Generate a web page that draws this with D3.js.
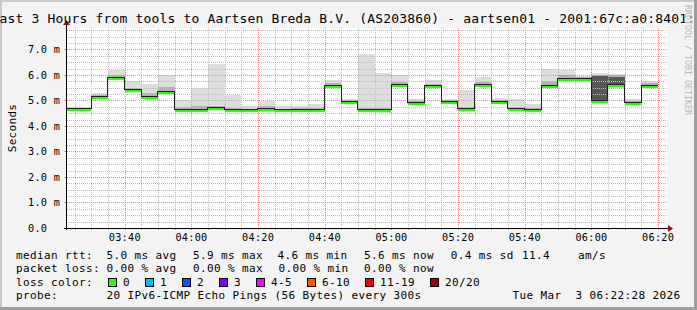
<!DOCTYPE html>
<html>
<head>
<meta charset="utf-8">
<script src="https://cdn.jsdelivr.net/npm/d3@7"></script>
<style>
html, body { margin: 0; padding: 0; background: #f3f3f3; }
svg { display: block; }
text { font-family: "DejaVu Sans Mono", monospace; }
</style>
</head>
<body>
<div id="chart"></div>
<script>
// 5 minute buckets (start time), values in ms
const bucketStart = ['03:20', '03:25', '03:30', '03:35', '03:40', '03:45', '03:50', '03:55', '04:00',
    '04:05', '04:10', '04:15', '04:20', '04:25', '04:30', '04:35', '04:40', '04:45', '04:50', '04:55',
    '05:00', '05:05', '05:10', '05:15', '05:20', '05:25', '05:30', '05:35', '05:40', '05:45', '05:50',
    '05:55', '06:00', '06:05', '06:10', '06:15'];
const median = [4.65, 4.65, 5.12, 5.88, 5.41, 5.14, 5.33, 4.62, 4.62, 4.69, 4.62, 4.62, 4.66, 4.62, 4.62,
    4.63, 5.57, 4.94, 4.64, 4.61, 5.62, 4.89, 5.57, 4.94, 4.65, 5.59, 4.94, 4.67, 4.64, 5.58, 5.86, 5.86,
    4.97, 5.60, 4.89, 5.58];
const smokeMin = [4.58, 4.58, 5.05, 5.80, 5.28, 5.06, 5.25, 4.54, 4.54, 4.58, 4.55, 4.55, 4.56, 4.55, 4.55,
    4.55, 5.50, 4.86, 4.56, 4.50, 5.52, 4.82, 5.50, 4.86, 4.56, 5.52, 4.85, 4.60, 4.58, 5.50, 5.80, 5.80,
    4.85, 5.50, 4.82, 5.52];
const smokeMax = [4.76, 4.76, 5.29, 6.18, 5.75, 5.63, 5.98, 5.00, 5.50, 6.44, 5.20, 4.77, 4.99, 4.77, 4.80,
    4.86, 5.82, 5.04, 6.84, 6.06, 5.98, 5.07, 5.80, 5.04, 5.42, 5.90, 5.08, 5.04, 4.86, 6.22, 6.18, 5.96,
    6.08, 6.05, 5.07, 5.77];
const q10 = [4.62, 4.62, 5.09, 5.84, 5.36, 5.10, 5.29, 4.58, 4.58, 4.64, 4.58, 4.58, 4.62, 4.58, 4.58,
    4.59, 5.53, 4.90, 4.60, 4.57, 5.58, 4.85, 5.53, 4.90, 4.61, 5.55, 4.90, 4.63, 4.60, 5.54, 5.82, 5.82,
    4.92, 5.55, 4.85, 5.54];
const q90 = [4.68, 4.68, 5.20, 5.98, 5.50, 5.30, 5.52, 4.75, 4.78, 4.80, 4.72, 4.68, 4.78, 4.68, 4.70,
    4.72, 5.68, 5.00, 4.72, 4.70, 5.72, 4.97, 5.66, 5.00, 4.76, 5.72, 5.03, 4.76, 4.72, 5.75, 5.98, 5.90,
    6.00, 5.98, 4.97, 5.68];
const q25 = [4.64, 4.64, 5.11, 5.87, 5.40, 5.13, 5.32, 4.61, 4.61, 4.68, 4.61, 4.61, 4.65, 4.61, 4.61,
    4.62, 5.56, 4.93, 4.63, 4.60, 5.61, 4.88, 5.56, 4.93, 4.64, 5.58, 4.93, 4.66, 4.63, 5.57, 5.85, 5.85,
    4.96, 5.59, 4.88, 5.57];
const q75 = [4.66, 4.66, 5.14, 5.90, 5.44, 5.17, 5.38, 4.64, 4.65, 4.72, 4.64, 4.63, 4.68, 4.63, 4.64,
    4.65, 5.60, 4.96, 4.67, 4.63, 5.65, 4.91, 5.60, 4.96, 4.68, 5.62, 4.96, 4.69, 4.66, 5.62, 5.88, 5.87,
    5.94, 5.93, 4.91, 5.60];
const loss = [0, 0, 0, 0, 0, 0, 0, 0, 0, 0, 0, 0, 0, 0, 0, 0, 0, 0, 0, 0, 0, 0, 0, 0, 0, 0, 0, 0, 0, 0, 0,
    0, 0, 0, 0, 0];

const xTickLabels = ['03:40', '04:00', '04:20', '04:40', '05:00', '05:20', '05:40', '06:00', '06:20'];
const yTickValues = [0, 1, 2, 3, 4, 5, 6, 7];
const yTickLabels = ['0.0', '1.0 m', '2.0 m', '3.0 m', '4.0 m', '5.0 m', '6.0 m', '7.0 m'];

const lossLabels = ['0', '1', '2', '3', '4-5', '6-10', '11-19', '20/20'];
const lossColors = ['#26ff00', '#00b8ff', '#0059ff', '#7e00ff', '#ff00ff', '#ff5500', '#ff0000', '#a10000'];
const rttStats = ['5.0 ms avg', '5.9 ms max', '4.6 ms min', '5.6 ms now', '0.4 ms sd', '11.4    am/s'];
const lossStats = ['0.00 % avg', '0.00 % max', '0.00 % min', '0.00 % now'];

const title = 'Last 3 Hours from tools to Aartsen Breda B.V. (AS203860) - aartsen01 - 2001:67c:a0:8401::2';
const probeText = '20 IPv6-ICMP Echo Pings (56 Bytes) every 300s';
const dateText = 'Tue Mar  3 06:22:28 2026';

const width = 697;
const height = 310;
const plot = { left: 67, right: 667, top: 28, bottom: 228 };

// keep runs of spaces in svg text
const keepSpaces = s => s.replace(/ /g, '\u00a0');

const parseTime = d3.timeParse('%H:%M:%S');
const t = s => parseTime(s.length === 5 ? s + ':00' : s);

const x = d3.scaleTime()
    .domain([t('03:22:45'), t('06:22:45')])
    .range([plot.left, plot.right]);
const y = d3.scaleLinear()
    .domain([0, 7.84])
    .range([plot.bottom, plot.top]);

const buckets = bucketStart.map((s, i) => ({
    start: t(s),
    end: d3.timeMinute.offset(t(s), 5),
    median: median[i],
    min: smokeMin[i], max: smokeMax[i],
    q10: q10[i], q90: q90[i],
    q25: q25[i], q75: q75[i],
    loss: loss[i]
}));

const svg = d3.select('#chart').append('svg')
    .attr('width', width)
    .attr('height', height);

// background + frame
svg.append('rect').attr('width', width).attr('height', height).style('fill', '#f3f3f3');
svg.append('rect').attr('x', 0).attr('y', 0).attr('width', width).attr('height', 2).style('fill', '#cbcbcb');
svg.append('rect').attr('x', 0).attr('y', 0).attr('width', 2).attr('height', height).style('fill', '#cbcbcb');
svg.append('rect').attr('x', 0).attr('y', height - 3).attr('width', width).attr('height', 3).style('fill', '#9d9d9d');
svg.append('rect').attr('x', width - 3).attr('y', 0).attr('width', 3).attr('height', height).style('fill', '#9d9d9d');

// canvas
svg.append('rect')
    .attr('x', plot.left).attr('y', plot.top)
    .attr('width', plot.right - plot.left).attr('height', plot.bottom - plot.top)
    .style('fill', '#ffffff');

svg.append('clipPath').attr('id', 'plot-clip')
    .append('rect')
    .attr('x', plot.left).attr('y', plot.top)
    .attr('width', plot.right - plot.left).attr('height', plot.bottom - plot.top);

const dataGroup = svg.append('g').attr('clip-path', 'url(#plot-clip)');

// smoke layers: outer range light, inner ranges darker
const smokeLayers = [
    { lo: 'min', hi: 'max', color: '#dddddd' },
    { lo: 'q10', hi: 'q90', color: '#b2b2b2' },
    { lo: 'q25', hi: 'q75', color: '#575757' }
];
smokeLayers.forEach(layer => {
    dataGroup.append('g')
        .selectAll('rect')
        .data(buckets)
        .join('rect')
        .attr('x', d => x(d.start))
        .attr('width', d => x(d.end) - x(d.start))
        .attr('y', d => y(d[layer.hi]))
        .attr('height', d => y(d[layer.lo]) - y(d[layer.hi]))
        .attr('shape-rendering', 'crispEdges')
        .style('fill', layer.color);
});

// grid (drawn over the smoke like rrdtool does), 1px dotted
const gridGroup = svg.append('g');
const minorX = d3.timeMinute.every(5).range(x.domain()[0], x.domain()[1]);
const majorX = d3.timeMinute.every(20).range(x.domain()[0], x.domain()[1]);
const minorY = d3.range(0.25, 7.84, 0.25).filter(v => Math.abs(v - Math.round(v)) > 0.01);
const majorY = yTickValues.filter(v => v > 0);
const minorColor = '#bdbdbd';
const majorColor = '#ee8c8c';
const px = v => Math.round(v) + 0.5;

gridGroup.selectAll('.minor-x')
    .data(minorX.filter(d => d.getMinutes() % 20 !== 0))
    .join('line')
    .attr('x1', d => px(x(d))).attr('x2', d => px(x(d)))
    .attr('y1', plot.top).attr('y2', plot.bottom)
    .style('stroke', minorColor)
    .style('stroke-dasharray', '1,1');
gridGroup.selectAll('.minor-y')
    .data(minorY)
    .join('line')
    .attr('x1', plot.left).attr('x2', plot.right)
    .attr('y1', d => px(y(d))).attr('y2', d => px(y(d)))
    .style('stroke', minorColor)
    .style('stroke-dasharray', '1,1');
gridGroup.selectAll('.major-x')
    .data(majorX)
    .join('line')
    .attr('x1', d => px(x(d))).attr('x2', d => px(x(d)))
    .attr('y1', plot.top).attr('y2', plot.bottom)
    .style('stroke', majorColor)
    .style('stroke-dasharray', '1,1');
gridGroup.selectAll('.major-y')
    .data(majorY)
    .join('line')
    .attr('x1', plot.left).attr('x2', plot.right)
    .attr('y1', d => px(y(d))).attr('y2', d => px(y(d)))
    .style('stroke', majorColor)
    .style('stroke-dasharray', '1,1');

// median band coloured by loss
const medGroup = svg.append('g').attr('clip-path', 'url(#plot-clip)');
medGroup.selectAll('rect')
    .data(buckets)
    .join('rect')
    .attr('x', d => x(d.start))
    .attr('width', d => x(d.end) - x(d.start))
    .attr('y', d => Math.round(y(d.median)) - 1)
    .attr('height', 3)
    .attr('shape-rendering', 'crispEdges')
    .style('fill', d => lossColors[d.loss]);

// median line
const last = buckets[buckets.length - 1];
const linePoints = buckets.map(d => [x(d.start), Math.round(y(d.median)) - 0.5])
    .concat([[x(last.end), Math.round(y(last.median)) - 0.5]]);
medGroup.append('path')
    .attr('d', d3.line().curve(d3.curveStepAfter)(linePoints))
    .attr('shape-rendering', 'crispEdges')
    .style('fill', 'none')
    .style('stroke', '#202020')
    .style('stroke-width', 1);

// axes
const axisGroup = svg.append('g').attr('shape-rendering', 'crispEdges');
axisGroup.selectAll('.tick-minor')
    .data(minorX)
    .join('line')
    .attr('x1', d => px(x(d))).attr('x2', d => px(x(d)))
    .attr('y1', plot.bottom).attr('y2', plot.bottom + 2)
    .style('stroke', '#999999');
axisGroup.selectAll('.tick-y')
    .data(yTickValues)
    .join('line')
    .attr('x1', plot.left - 3).attr('x2', plot.left)
    .attr('y1', d => px(y(d))).attr('y2', d => px(y(d)))
    .style('stroke', d => d === 0 ? '#000' : majorColor);
axisGroup.append('line')
    .attr('x1', plot.left - 3).attr('x2', plot.right + 2)
    .attr('y1', plot.bottom + 0.5).attr('y2', plot.bottom + 0.5)
    .style('stroke', '#000');
axisGroup.append('line')
    .attr('x1', plot.left - 0.5).attr('x2', plot.left - 0.5)
    .attr('y1', plot.bottom + 2).attr('y2', plot.top - 3)
    .style('stroke', '#000');

// arrows
svg.append('path')
    .attr('d', `M${plot.right + 6},${plot.bottom + 0.5} L${plot.right + 1},${plot.bottom - 3} L${plot.right + 1},${plot.bottom + 4} Z`)
    .style('fill', '#9a1010');
svg.append('path')
    .attr('d', `M${plot.left - 0.5},${plot.top - 8} L${plot.left - 4},${plot.top - 3} L${plot.left + 3},${plot.top - 3} Z`)
    .style('fill', '#9a1010');

// tick labels
const labelFont = { size: '10.2px', spacing: '0.3px' };
svg.append('g').selectAll('text')
    .data(xTickLabels)
    .join('text')
    .attr('x', d => x(t(d)) + 0.3)
    .attr('y', 241)
    .attr('text-anchor', 'middle')
    .style('font-size', labelFont.size)
    .style('letter-spacing', labelFont.spacing)
    .style('fill', '#000')
    .text(d => d);

svg.append('g').selectAll('text')
    .data(yTickValues)
    .join('text')
    .attr('x', 28)
    .attr('y', d => y(d) + 4)
    .style('font-size', labelFont.size)
    .style('letter-spacing', labelFont.spacing)
    .style('fill', '#000')
    .text((d, i) => keepSpaces(yTickLabels[i]));

// y axis title
svg.append('text')
    .attr('transform', `translate(15.5,${(plot.top + plot.bottom) / 2}) rotate(-90)`)
    .attr('text-anchor', 'middle')
    .style('font-size', '11px')
    .style('letter-spacing', '0.3px')
    .style('fill', '#000')
    .text('Seconds');

// title (wider than the image, clipped at both sides like the original)
svg.append('text')
    .attr('x', -8.5)
    .attr('y', 23)
    .style('font-size', '13px')
    .style('letter-spacing', '0.17px')
    .style('fill', '#000')
    .text(keepSpaces(title));

// watermark
svg.append('text')
    .attr('transform', 'translate(685,5) rotate(90)')
    .style('font-size', '8.3px')
    .style('fill', '#b8b8b8')
    .text(keepSpaces('RRDTOOL / TOBI OETIKER'));

// legend
const legend = svg.append('g')
    .style('font-size', '11px')
    .style('letter-spacing', '0.38px')
    .style('fill', '#000');
const rows = [258.5, 272, 285.7, 299.3];
const addText = (xPos, row, s) => legend.append('text').attr('x', xPos).attr('y', rows[row]).text(keepSpaces(s));

addText(16, 0, 'median rtt:');
const rttX = [106.5, 193, 277.5, 364, 450.8, 522];
rttStats.forEach((s, i) => addText(rttX[i], 0, s));

addText(16, 1, 'packet loss:');
const lossX = [106.5, 193, 278.5, 364];
lossStats.forEach((s, i) => addText(lossX[i], 1, s));

addText(16, 2, 'loss color:');
const boxX = [108.5, 145.5, 182.5, 219.5, 256.5, 307.5, 365.5, 430.5];
lossLabels.forEach((s, i) => {
    legend.append('rect')
        .attr('x', boxX[i]).attr('y', 278.5)
        .attr('width', 8).attr('height', 8)
        .style('fill', lossColors[i])
        .style('stroke', '#000')
        .style('stroke-width', 1);
    addText(boxX[i] + 14.5, 2, s);
});

addText(16, 3, 'probe:');
addText(106.5, 3, probeText);
addText(512.5, 3, dateText);
</script>
</body>
</html>
